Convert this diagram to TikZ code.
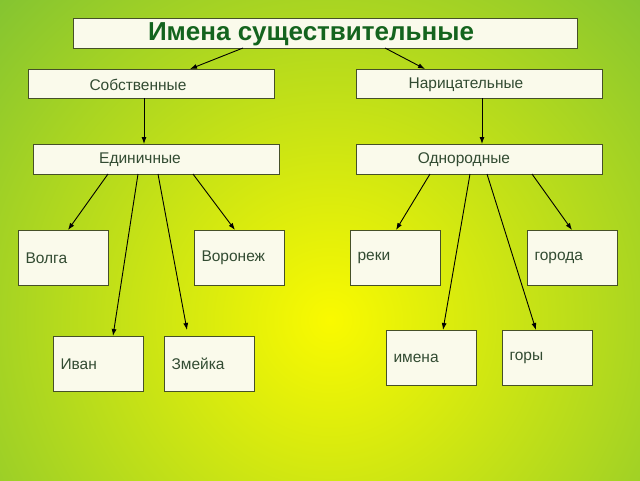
\documentclass[tikz,border=0pt]{standalone}
\usepackage{fontspec}
\setmainfont{Liberation Sans}
\usetikzlibrary{arrows.meta}
\definecolor{bggreen}{RGB}{130,195,50}
\definecolor{bgyellow}{RGB}{250,250,0}
\definecolor{txt}{RGB}{50,75,50}
\definecolor{ttl}{RGB}{20,100,30}
\definecolor{bdr}{RGB}{70,80,40}
\definecolor{bfill}{RGB}{250,250,235}
\begin{document}
\begin{tikzpicture}[x=1pt,y=-1pt,
  box/.style={draw=bdr,fill=bfill,line width=0.8pt},
  lbl/.style={text=txt,font=\fontsize{15.5}{18}\selectfont,anchor=center},
  arr/.style={-{Latex[length=7pt,width=5pt]},line width=0.9pt}]
\useasboundingbox (0,0) rectangle (640,480);
\begin{scope}
\clip (0,0) rectangle (640,480);
\shade[inner color=bgyellow,outer color=bggreen] (330,320) circle (470);
\end{scope}
\draw[box] (73,18) rectangle (577,48);
\node[text=ttl,font=\bfseries\fontsize{26}{30}\selectfont] (t) at (311,34) {Имена существительные};
\coordinate (tl) at (243,48); \coordinate (tr) at (385,48);
\draw[box] (28,69) rectangle (274,98); \node[lbl] (sob) at (138,85) {Собственные};
\draw[box] (356,69) rectangle (602,98); \node[lbl] (nar) at (466,85) {Нарицательные};
\draw[box] (33,144) rectangle (279,174); \node[lbl] (ed) at (140,160) {Единичные};
\draw[box] (356,144) rectangle (602,174); \node[lbl] (od) at (464,160) {Однородные};
\foreach \x/\y/\t/\n in {18/230/Волга/b1,194/230/Воронеж/b2,350/230/реки/b3,527/230/города/b4,53/336/Иван/b5,164/336/Змейка/b6,386/330/имена/b7,502/330/горы/b8}{
  \draw[box] (\x,\y) rectangle ++(90,55);
  \node[lbl,anchor=west] (\n) at (\x+4,\y+28) {\t};
}
\coordinate (a1) at (190,69); \coordinate (a2) at (425,69);
\draw[arr] (tl) -- (a1); \draw[arr] (tr) -- (a2);
\coordinate (s1) at (144,98); \coordinate (s2) at (144,144);
\draw[arr] (s1) -- (s2);
\coordinate (n1) at (482,98); \coordinate (n2) at (482,144);
\draw[arr] (n1) -- (n2);
\coordinate (e1) at (108,174); \coordinate (e1b) at (68,230); \draw[arr] (e1) -- (e1b);
\coordinate (e2) at (138,174); \coordinate (e2b) at (113,336); \draw[arr] (e2) -- (e2b);
\coordinate (e3) at (158,174); \coordinate (e3b) at (187,330); \draw[arr] (e3) -- (e3b);
\coordinate (e4) at (193,174); \coordinate (e4b) at (235,230); \draw[arr] (e4) -- (e4b);
\coordinate (o1) at (430,174); \coordinate (o1b) at (396,230); \draw[arr] (o1) -- (o1b);
\coordinate (o2) at (470,174); \coordinate (o2b) at (443,330); \draw[arr] (o2) -- (o2b);
\coordinate (o3) at (487,174); \coordinate (o3b) at (536,330); \draw[arr] (o3) -- (o3b);
\coordinate (o4) at (532,174); \coordinate (o4b) at (572,230); \draw[arr] (o4) -- (o4b);
\end{tikzpicture}
\end{document}
